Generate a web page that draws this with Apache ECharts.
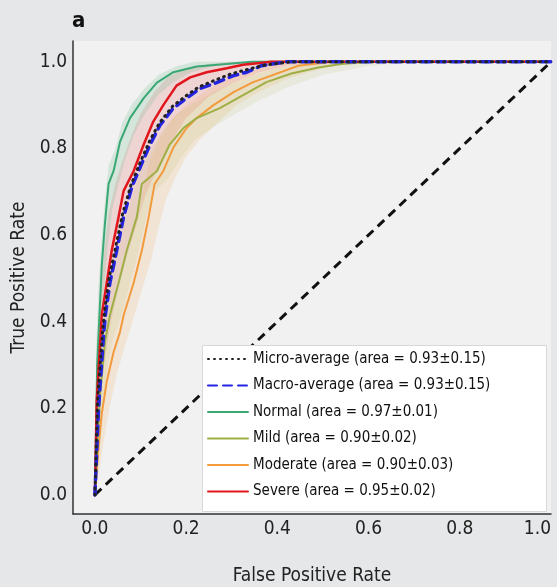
<!DOCTYPE html>
<html>
<head>
<meta charset="utf-8">
<script src="https://cdn.jsdelivr.net/npm/echarts@6/dist/echarts.min.js"></script>
<style>
  html, body { margin: 0; padding: 0; background: #e6e7e8; }
  #chart { width: 557px; height: 587px; }
</style>
</head>
<body>
<div id="chart"></div>
<script>
// ROC curves, [fpr, tpr]
const microAvg = [[0,0],[0.006,0.22],[0.017,0.38],[0.022,0.43],[0.031,0.50],[0.046,0.575],[0.061,0.65],[0.079,0.715],[0.097,0.762],[0.119,0.815],[0.141,0.858],[0.170,0.897],[0.199,0.921],[0.228,0.942],[0.262,0.957],[0.298,0.972],[0.330,0.981],[0.370,0.992],[0.43,1.0],[1,1]]
const macroAvg = [[0,0],[0.008,0.200],[0.019,0.369],[0.023,0.415],[0.033,0.490],[0.048,0.565],[0.063,0.642],[0.081,0.711],[0.099,0.756],[0.121,0.809],[0.143,0.854],[0.172,0.893],[0.201,0.916],[0.230,0.938],[0.267,0.952],[0.304,0.968],[0.333,0.976],[0.365,0.991],[0.420,1.0],[1,1]]
const normal = [[0,0],[0.005,0.30],[0.010,0.415],[0.015,0.528],[0.022,0.626],[0.030,0.718],[0.041,0.748],[0.055,0.815],[0.077,0.870],[0.107,0.916],[0.136,0.952],[0.172,0.976],[0.223,0.989],[0.289,0.995],[0.344,1.0],[1,1]]
const mild = [[0,0],[0.007,0.148],[0.012,0.239],[0.022,0.353],[0.033,0.415],[0.052,0.490],[0.070,0.565],[0.092,0.642],[0.103,0.718],[0.136,0.748],[0.164,0.809],[0.194,0.847],[0.223,0.870],[0.274,0.893],[0.325,0.923],[0.376,0.953],[0.431,0.973],[0.490,0.987],[0.540,0.995],[0.606,1.0],[1,1]]
const moderate = [[0,0],[0.008,0.109],[0.015,0.187],[0.026,0.262],[0.041,0.330],[0.055,0.376],[0.063,0.415],[0.085,0.490],[0.103,0.565],[0.118,0.642],[0.131,0.718],[0.150,0.748],[0.172,0.802],[0.201,0.847],[0.223,0.870],[0.260,0.900],[0.304,0.930],[0.347,0.953],[0.376,0.964],[0.446,0.991],[0.519,1.0],[1,1]]
const severe = [[0,0],[0.004,0.216],[0.012,0.360],[0.015,0.415],[0.026,0.490],[0.037,0.565],[0.052,0.642],[0.063,0.702],[0.085,0.748],[0.107,0.809],[0.128,0.862],[0.150,0.900],[0.179,0.945],[0.209,0.964],[0.245,0.976],[0.289,0.985],[0.325,0.993],[0.387,1.0],[1,1]]
const chance = [[0,0],[1,1]]

// std bands (upper / lower edges)
const normalUp = [[0,0],[0.003,0.35],[0.008,0.48],[0.014,0.58],[0.022,0.68],[0.03,0.76],[0.045,0.8],[0.06,0.86],[0.08,0.9],[0.11,0.94],[0.14,0.97],[0.18,0.99],[0.22,1.0],[1,1]]
const normalLo = [[0,0],[0.008,0.28],[0.014,0.37],[0.02,0.47],[0.028,0.57],[0.038,0.66],[0.05,0.71],[0.065,0.77],[0.085,0.83],[0.11,0.88],[0.14,0.925],[0.175,0.955],[0.21,0.975],[0.26,0.99],[0.32,1.0],[1,1]]
const mildUp = [[0,0],[0.004,0.2],[0.01,0.3],[0.018,0.4],[0.028,0.47],[0.045,0.55],[0.065,0.63],[0.085,0.7],[0.1,0.75],[0.125,0.8],[0.15,0.845],[0.18,0.88],[0.21,0.9],[0.26,0.93],[0.3,0.95],[0.35,0.97],[0.4,0.985],[0.48,1.0],[1,1]]
const mildLo = [[0,0],[0.01,0.1],[0.018,0.2],[0.028,0.3],[0.04,0.36],[0.06,0.42],[0.08,0.5],[0.1,0.58],[0.115,0.65],[0.13,0.7],[0.16,0.73],[0.19,0.78],[0.22,0.82],[0.26,0.85],[0.3,0.875],[0.36,0.91],[0.42,0.94],[0.5,0.97],[0.6,0.99],[0.7,1.0],[1,1]]
const moderateUp = [[0,0],[0.005,0.16],[0.012,0.25],[0.022,0.33],[0.035,0.41],[0.05,0.47],[0.07,0.55],[0.09,0.63],[0.105,0.7],[0.12,0.77],[0.14,0.82],[0.17,0.87],[0.2,0.9],[0.24,0.93],[0.28,0.955],[0.33,0.975],[0.4,0.995],[0.45,1.0],[1,1]]
const moderateLo = [[0,0],[0.012,0.07],[0.02,0.13],[0.032,0.2],[0.048,0.28],[0.065,0.34],[0.085,0.41],[0.105,0.48],[0.125,0.55],[0.14,0.62],[0.155,0.68],[0.175,0.73],[0.2,0.78],[0.23,0.82],[0.27,0.86],[0.31,0.9],[0.36,0.93],[0.42,0.96],[0.5,0.985],[0.58,1.0],[1,1]]
const severeUp = [[0,0],[0.004,0.30],[0.010,0.44],[0.02,0.56],[0.03,0.65],[0.045,0.72],[0.06,0.77],[0.08,0.83],[0.10,0.88],[0.13,0.93],[0.16,0.965],[0.2,0.985],[0.25,0.995],[0.3,1.0],[1,1]]
const severeLo = [[0,0],[0.01,0.2],[0.02,0.3],[0.035,0.4],[0.05,0.47],[0.07,0.55],[0.09,0.62],[0.11,0.69],[0.14,0.76],[0.17,0.82],[0.2,0.87],[0.25,0.92],[0.3,0.95],[0.36,0.975],[0.42,0.99],[0.5,1.0],[1,1]]

const names = ['Micro-average (area = 0.93±0.15)', 'Macro-average (area = 0.93±0.15)', 'Normal (area = 0.97±0.01)',
  'Mild (area = 0.90±0.02)', 'Moderate (area = 0.90±0.03)', 'Severe (area = 0.95±0.02)']

const font = "'Liberation Sans Narrow', 'DejaVu Sans Condensed', sans-serif"
const chart = echarts.init(document.getElementById('chart'))

function band(up, lo, color) {
  return {
    type: 'custom',
    silent: true,
    z: 1,
    data: [[0, 0]],
    renderItem: (params, api) => {
      const pts = up.map(p => api.coord(p)).concat(lo.slice().reverse().map(p => api.coord(p)))
      return { type: 'polygon', shape: { points: pts }, style: { fill: color } }
    }
  }
}

function curve(name, data, color, width, type) {
  return {
    name, type: 'line', data, symbol: 'none', z: 3,
    lineStyle: { color, width, type: type || 'solid', cap: 'round' },
    itemStyle: { color }
  }
}

const tickLabel = v => Math.abs(v * 5 - Math.round(v * 5)) < 1e-6 ? v.toFixed(1) : ''

chart.setOption({
  backgroundColor: '#e6e7e8',
  animation: false,
  title: { text: 'a', left: 67, top: 5, textStyle: { fontFamily: font, fontSize: 22, fontWeight: 'bold', color: '#111' } },
  grid: { left: 73, top: 41, right: 6, bottom: 73, outerBoundsMode: 'none', containLabel: false,
    show: true, backgroundColor: '#f1f1f1', borderWidth: 0 },
  xAxis: {
    type: 'value', min: -0.048, max: 1.0,
    name: 'False Positive Rate', nameLocation: 'middle', nameGap: 53,
    nameTextStyle: { fontFamily: font, fontSize: 19, color: '#222' },
    axisLine: { onZero: false, lineStyle: { color: '#333', width: 1.5 } },
    axisTick: { show: false }, splitLine: { show: false },
    axisLabel: { formatter: tickLabel, alignMaxLabel: 'right', fontFamily: font, fontSize: 19, color: '#222', margin: 6 }
  },
  yAxis: {
    type: 'value', min: -0.044, max: 1.048,
    name: 'True Positive Rate', nameLocation: 'middle', nameGap: 41,
    nameTextStyle: { fontFamily: font, fontSize: 19, color: '#222' },
    axisLine: { show: true, onZero: false, lineStyle: { color: '#333', width: 1.5 } },
    axisTick: { show: false }, splitLine: { show: false },
    axisLabel: { formatter: tickLabel, fontFamily: font, fontSize: 19, color: '#222', margin: 6 }
  },
  graphic: [{
    type: 'rect', left: 202, top: 345, z: 50,
    shape: { width: 344, height: 166 },
    style: { fill: '#ffffff', stroke: '#d8d8d8', lineWidth: 1 }
  }],
  legend: {
    data: names, orient: 'vertical', left: 207, top: 351, z: 60,
    padding: 0, itemGap: 10.5, itemWidth: 40, itemHeight: 14,
    itemStyle: { opacity: 0 },
    textStyle: { fontFamily: font, fontSize: 15, color: '#111', lineHeight: 16 }
  },
  series: [
    band(severeUp, severeLo, 'rgba(235,120,120,0.24)'),
    band(moderateUp, moderateLo, 'rgba(245,160,70,0.16)'),
    band(mildUp, mildLo, 'rgba(170,180,70,0.12)'),
    band(normalUp, normalLo, 'rgba(60,175,110,0.16)'),
    {
      type: 'line', data: chance, symbol: 'none', silent: true, z: 2,
      lineStyle: { color: '#111', width: 3, type: [9, 6] }
    },
    curve(names[4], moderate, '#f39a3c', 2),
    curve(names[3], mild, '#9fae45', 2),
    curve(names[2], normal, '#3aa874', 2),
    curve(names[5], severe, '#e0161c', 2.5),
    curve(names[1], macroAvg, '#2424e0', 3.5, [9, 6]),
    curve(names[0], microAvg, '#222', 3, [1, 5])
  ]
})
</script>
</body>
</html>
